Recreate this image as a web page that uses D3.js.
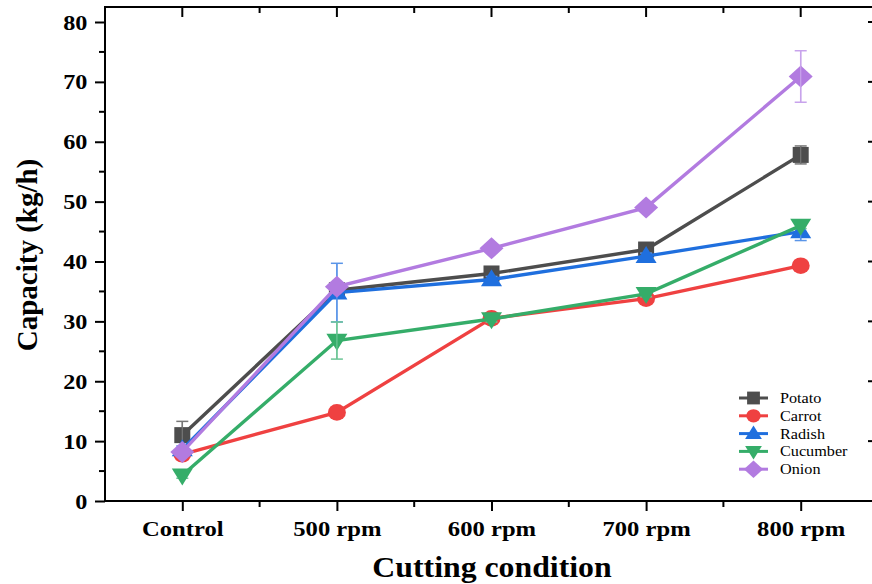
<!DOCTYPE html>
<html><head><meta charset="utf-8">
<script src="https://cdn.jsdelivr.net/npm/d3@7"></script>
<style>body{margin:0;background:#fff;}svg{display:block;}</style>
</head><body><svg id="c" width="872" height="584"></svg>
<script>
const categories = ["Control","500 rpm","600 rpm","700 rpm","800 rpm"];
const seriesNames = ["Potato","Carrot","Radish","Cucumber","Onion"];
const potato   = [11.0, 35.2, 38.0, 42.0, 57.8];
const carrot   = [7.8, 14.8, 30.5, 33.8, 39.3];
const radish   = [8.6, 34.8, 37.0, 40.9, 45.0];
const cucumber = [4.3, 26.8, 30.4, 34.6, 46.0];
const onion    = [8.2, 35.8, 42.2, 49.0, 70.9];
const potatoErr   = [2.3, 0.6, 0.5, 0.6, 1.5];
const carrotErr   = [0.6, 0.5, 0.5, 0.5, 0.5];
const radishErr   = [0.6, 4.9, 0.5, 0.5, 1.5];
const cucumberErr = [0.5, 3.1, 0.5, 0.5, 0.5];
const onionErr    = [0.6, 0.6, 0.5, 0.6, 4.3];
const yTicks = [0,10,20,30,40,50,60,70,80];
const colors = ["#4d4d4d","#ef4141","#1f6fde","#35ad69","#b27be0"];
const errColors = ["#777777","#f08080","#5a95e8","#6cc596","#c8a3ec"];
const symbols = ["square","circle","triUp","triDown","diamond"];

const values = [potato, carrot, radish, cucumber, onion];
const errs = [potatoErr, carrotErr, radishErr, cucumberErr, onionErr];

const svg = d3.select("#c");
const L = 105, R = 878, T = 7, B = 501;
const x = d3.scalePoint().domain(categories).range([L, R]).padding(0.5);
const y = d3.scaleLinear().domain([0, 80]).range([B, 22]);

const font = "'Liberation Serif','Times New Roman',serif";

svg.append("rect").attr("x", L).attr("y", T).attr("width", R - L).attr("height", B - T)
  .attr("fill", "none").attr("stroke", "#000").attr("stroke-width", 2);

const yAx = svg.append("g").attr("transform", `translate(${L},0)`)
  .call(d3.axisLeft(y).tickValues(yTicks).tickSize(10).tickPadding(6).tickFormat(d3.format("d")));
yAx.select(".domain").remove();
yAx.selectAll("line").attr("stroke-width", 2);
yAx.selectAll("text").attr("font-family", font).attr("font-weight", "bold").attr("font-size", 22)
  .attr("fill", "#000").attr("transform", "scale(1.1,1)");
const minorY = d3.range(5, 80, 10);
svg.append("g").selectAll("line").data(minorY).join("line")
  .attr("x1", L - 6).attr("x2", L).attr("y1", d => y(d)).attr("y2", d => y(d)).attr("stroke", "#000").attr("stroke-width", 2);
svg.append("g").selectAll("line").data(yTicks).join("line")
  .attr("x1", R - 10).attr("x2", R).attr("y1", d => y(d)).attr("y2", d => y(d)).attr("stroke", "#000").attr("stroke-width", 2);
svg.append("g").selectAll("line").data(minorY).join("line")
  .attr("x1", R - 6).attr("x2", R).attr("y1", d => y(d)).attr("y2", d => y(d)).attr("stroke", "#000").attr("stroke-width", 2);

const xAx = svg.append("g").attr("transform", `translate(0,${B})`)
  .call(d3.axisBottom(x).tickSize(10).tickPadding(9));
xAx.select(".domain").remove();
xAx.selectAll("line").attr("stroke-width", 2);
xAx.selectAll("text").attr("font-family", font).attr("font-weight", "bold").attr("font-size", 22)
  .attr("fill", "#000").attr("transform", "scale(1.12,1)");
const step = x.step();
const minorX = categories.map(c => x(c) + step / 2).filter(v => v < R - 1);
svg.append("g").selectAll("line").data(minorX).join("line")
  .attr("x1", d => d).attr("x2", d => d).attr("y1", B).attr("y2", B + 6).attr("stroke", "#000").attr("stroke-width", 2);
svg.append("g").selectAll("line").data(categories).join("line")
  .attr("x1", d => x(d)).attr("x2", d => x(d)).attr("y1", T).attr("y2", T + 10).attr("stroke", "#000").attr("stroke-width", 2);
svg.append("g").selectAll("line").data(minorX).join("line")
  .attr("x1", d => d).attr("x2", d => d).attr("y1", T).attr("y2", T + 6).attr("stroke", "#000").attr("stroke-width", 2);

svg.append("text").attr("transform", "translate(492,577) scale(1.06,1)").attr("text-anchor", "middle")
  .attr("font-family", font).attr("font-weight", "bold").attr("font-size", 30).text("Cutting condition");
svg.append("text").attr("transform", "translate(37,255) rotate(-90)").attr("text-anchor", "middle")
  .attr("font-family", font).attr("font-weight", "bold").attr("font-size", 29).text("Capacity (kg/h)");

function drawSymbol(g, type, cx, cy, color, scale) {
  const s = scale || 1;
  let el;
  if (type === "square") {
    const h = 8 * s;
    el = g.append("rect").attr("x", cx - h).attr("y", cy - h).attr("width", 2 * h).attr("height", 2 * h);
  } else if (type === "circle") {
    el = g.append("ellipse").attr("cx", cx).attr("cy", cy).attr("rx", 9 * s).attr("ry", 8.3 * s);
  } else if (type === "triUp") {
    const w = 10.5 * s, h = 17 * s;
    el = g.append("path").attr("d", `M${cx},${cy - h * 0.6}L${cx + w},${cy + h * 0.4}L${cx - w},${cy + h * 0.4}Z`);
  } else if (type === "triDown") {
    const w = 10.5 * s, h = 17 * s;
    el = g.append("path").attr("d", `M${cx},${cy + h * 0.6}L${cx + w},${cy - h * 0.4}L${cx - w},${cy - h * 0.4}Z`);
  } else {
    const w = 12 * s, h = 11 * s;
    el = g.append("path").attr("d", `M${cx},${cy - h}L${cx + w},${cy}L${cx},${cy + h}L${cx - w},${cy}Z`);
  }
  el.attr("fill", color);
  return el;
}

const line = d3.line().x((d, i) => x(categories[i])).y(d => y(d));

seriesNames.forEach((name, si) => {
  const g = svg.append("g");
  const vals = values[si], er = errs[si];
  vals.forEach((v, i) => {
    const cx = x(categories[i]);
    const e = er[i];
    g.append("line").attr("x1", cx).attr("x2", cx).attr("y1", y(v + e)).attr("y2", y(v - e))
      .attr("stroke", errColors[si]).attr("stroke-width", 1.5);
    [v + e, v - e].forEach(t => g.append("line").attr("x1", cx - 6).attr("x2", cx + 6)
      .attr("y1", y(t)).attr("y2", y(t)).attr("stroke", errColors[si]).attr("stroke-width", 1.5));
  });
  g.append("path").datum(vals).attr("d", line).attr("fill", "none")
    .attr("stroke", colors[si]).attr("stroke-width", 3.4);
  vals.forEach((v, i) => drawSymbol(g, symbols[si], x(categories[i]), y(v), colors[si], 1));
  vals.forEach((v, i) => {
    const cx = x(categories[i]);
    const e = er[i];
    if (e > 1) {
      g.append("line").attr("x1", cx).attr("x2", cx).attr("y1", y(v + e)).attr("y2", y(v - e))
        .attr("stroke", errColors[si]).attr("stroke-width", 1.2);
    }
  });
});

const lg = svg.append("g");
seriesNames.forEach((name, si) => {
  const ly = 398 + si * 17.8;
  lg.append("line").attr("x1", 739).attr("x2", 768).attr("y1", ly).attr("y2", ly)
    .attr("stroke", colors[si]).attr("stroke-width", 3);
  drawSymbol(lg, symbols[si], 753.5, ly, colors[si], 0.8);
  lg.append("text").attr("transform", `translate(780,${ly + 5}) scale(1.08,1)`).attr("font-family", font)
    .attr("font-size", 15).attr("fill", "#000").text(name);
});
</script></body></html>
